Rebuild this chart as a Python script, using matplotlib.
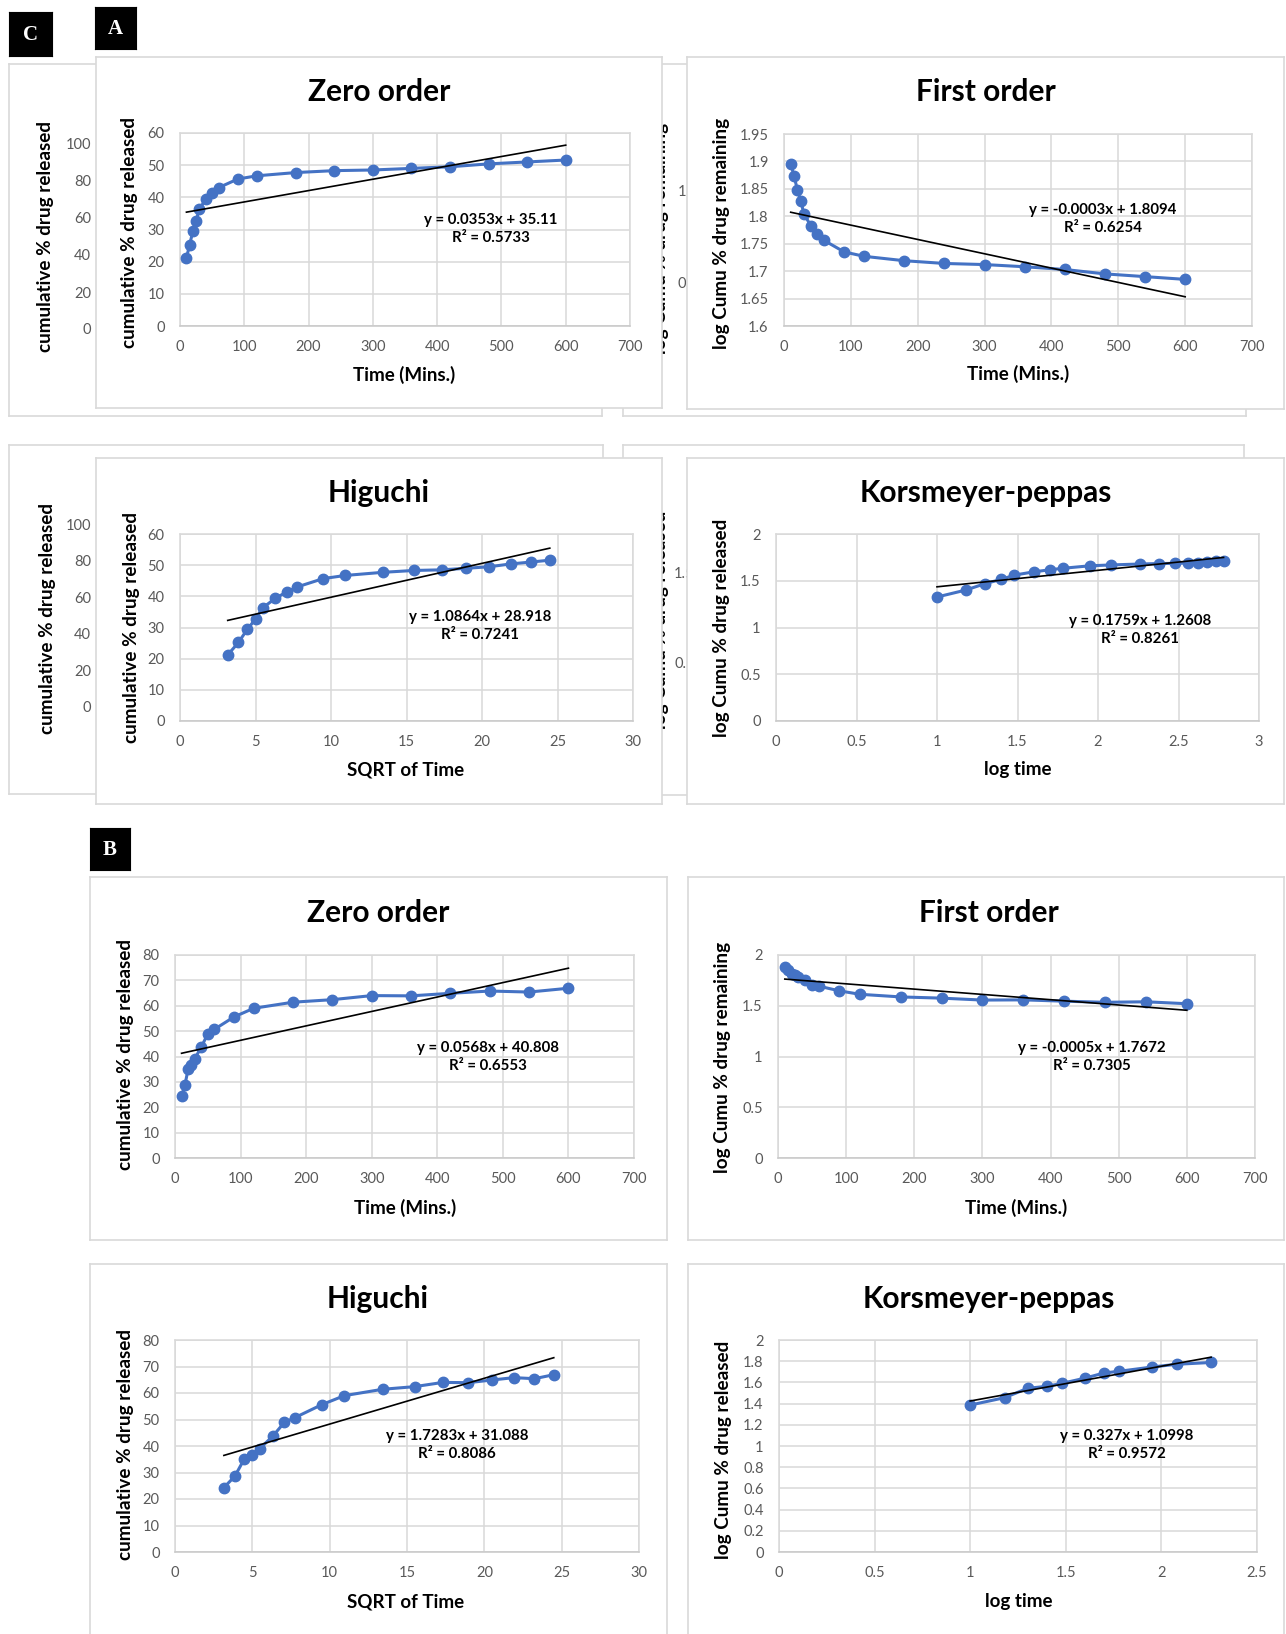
import numpy as np
import matplotlib.pyplot as plt

W, H = 1286, 1634

# x values (time points and their transforms)
time_min = [10, 15, 20, 25, 30, 40, 50, 60, 90, 120, 180, 240, 300, 360, 420, 480, 540, 600]
sqrt_time = [3.16, 3.87, 4.47, 5.00, 5.48, 6.32, 7.07, 7.75, 9.49, 10.95, 13.42, 15.49,
             17.32, 18.97, 20.49, 21.91, 23.24, 24.49]
log_time = [1.00, 1.18, 1.30, 1.40, 1.48, 1.60, 1.70, 1.78, 1.95, 2.08, 2.26, 2.38,
            2.48, 2.56, 2.62, 2.68, 2.73, 2.78]

# A
a_released = [21.2, 25.2, 29.5, 32.7, 36.3, 39.4, 41.4, 43.0, 45.7, 46.7, 47.7, 48.3,
              48.5, 49.0, 49.5, 50.4, 51.0, 51.6]
a_log_remaining = [1.896, 1.874, 1.848, 1.828, 1.804, 1.783, 1.768, 1.756, 1.735, 1.727,
                   1.719, 1.714, 1.712, 1.708, 1.703, 1.695, 1.690, 1.685]
a_log_released = [1.326, 1.401, 1.470, 1.515, 1.560, 1.595, 1.617, 1.633, 1.660, 1.669,
                  1.679, 1.684, 1.686, 1.690, 1.695, 1.702, 1.708, 1.713]
a_eqs = ["y = 0.0353x + 35.11\nR² = 0.5733", "y = -0.0003x + 1.8094\nR² = 0.6254",
         "y = 1.0864x + 28.918\nR² = 0.7241", "y = 0.1759x + 1.2608\nR² = 0.8261"]

# B
b_released = [24.3, 28.6, 35.0, 36.6, 39.0, 43.7, 48.9, 50.7, 55.6, 59.0, 61.4, 62.4,
              64.0, 63.9, 64.9, 65.8, 65.4, 66.9]
b_log_remaining = [1.879, 1.854, 1.813, 1.802, 1.785, 1.751, 1.708, 1.693, 1.647, 1.613,
                   1.587, 1.575, 1.556, 1.558, 1.545, 1.534, 1.539, 1.520]
b_log_released = [1.386, 1.456, 1.544, 1.563, 1.591, 1.640, 1.689, 1.705, 1.745, 1.771, 1.788]
b_eqs = ["y = 0.0568x + 40.808\nR² = 0.6553", "y = -0.0005x + 1.7672\nR² = 0.7305",
         "y = 1.7283x + 31.088\nR² = 0.8086", "y = 0.327x + 1.0998\nR² = 0.9572"]

BLUE = '#4472C4'
GRID = '#D9D9D9'
TICK = '#595959'
FONT = 'Lato'

plt.rcParams['font.family'] = FONT

fig = plt.figure(figsize=(W / 100, H / 100), dpi=100)
fig.patch.set_facecolor('white')
zc = [0]


def rect(x0, y0, x1, y1):
    return [x0 / W, 1 - y1 / H, (x1 - x0) / W, (y1 - y0) / H]


def nz():
    zc[0] += 1
    return zc[0]


def ftext(ax, x, y, s, **kw):
    ax.text(x / W, 1 - y / H, s, transform=fig.transFigure, ha='center', va='center', **kw)


def frame(x0, y0, x1, y1):
    ax = fig.add_axes(rect(x0, y0, x1, y1), zorder=nz())
    ax.set_facecolor('white')
    ax.set_xticks([])
    ax.set_yticks([])
    for s in ax.spines.values():
        s.set_color(GRID)
        s.set_linewidth(1.2)
    return ax


def tag(x0, y0, x1, y1, letter):
    ax = fig.add_axes(rect(x0, y0, x1, y1), zorder=nz())
    ax.set_facecolor('black')
    ax.set_xticks([])
    ax.set_yticks([])
    ftext(ax, (x0 + x1) / 2, (y0 + y1) / 2 + 1, letter, color='white', fontsize=15,
          fontweight='bold', family='Liberation Serif')


def fmt(v):
    return f'{round(v, 2):g}'


def chart(box, x, y, xticks, yticks, title, xlabel, ylabel, eq, pos):
    ax = fig.add_axes(rect(*box), zorder=nz())
    ax.set_facecolor('none')
    ax.plot(x, y, color=BLUE, lw=2.2, marker='o', ms=7.5, zorder=3, clip_on=False)
    k, b = np.polyfit(x, y, 1)
    xs = np.array([x[0], x[-1]])
    ax.plot(xs, k * xs + b, color='black', lw=1.2, zorder=4, clip_on=False)
    ax.set_xlim(xticks[0], xticks[-1])
    ax.set_ylim(yticks[0], yticks[-1])
    ax.set_xticks(xticks)
    ax.set_yticks(yticks)
    ax.set_xticklabels([fmt(v) for v in xticks])
    ax.set_yticklabels([fmt(v) for v in yticks])
    ax.grid(True, color=GRID, lw=1.1)
    ax.set_axisbelow(True)
    for s in ax.spines.values():
        s.set_color(GRID)
        s.set_linewidth(1.1)
    ax.spines['bottom'].set_color('#C8C8C8')
    ax.tick_params(length=0, labelsize=10.5, labelcolor=TICK)
    ax.tick_params(axis='y', pad=11)
    ax.tick_params(axis='x', pad=10)
    (tx, ty), (lx, ly), (yx, yy), (ex, ey) = pos
    ftext(ax, tx, ty, title, fontsize=21.5, fontweight='bold')
    ftext(ax, lx, ly, xlabel, fontsize=13.5, fontweight='bold')
    ftext(ax, yx, yy, ylabel, fontsize=13.6, fontweight='bold', rotation=90)
    ftext(ax, ex, ey, eq, fontsize=10.8, fontweight='bold', linespacing=1.4,
          multialignment='center')
    return ax


def bg_axis(box, yticks, ylabel, lab_xy):
    ax = fig.add_axes(rect(*box), zorder=nz())
    ax.set_facecolor('none')
    for s in ax.spines.values():
        s.set_visible(False)
    ax.set_xticks([])
    ax.set_ylim(yticks[0], yticks[-1])
    ax.set_yticks(yticks)
    ax.set_yticklabels([fmt(v) for v in yticks])
    ax.tick_params(length=0, labelsize=10.5, labelcolor=TICK, pad=3)
    ftext(ax, lab_xy[0], lab_xy[1], ylabel, fontsize=13.6, fontweight='bold', rotation=90)


rel_lab = 'cumulative % drug released'
rem_lab = 'log Cumu % drug remaining'
logrel_lab = 'log Cumu % drug released'

# ---- background panels (C) ----
frame(9, 64, 602, 416)
bg_axis((95, 144, 590, 329), [0, 20, 40, 60, 80, 100], rel_lab, (46, 237))
frame(623, 64, 1246, 416)
bg_axis((690, 191, 1230, 283), [0, 1], rem_lab, (661, 238))
frame(9, 445, 603, 794)
bg_axis((95, 524, 590, 707), [0, 20, 40, 60, 80, 100], rel_lab, (48, 619))
frame(623, 445, 1244, 795)
bg_axis((699, 572, 1230, 662), [0.5, 1.5], logrel_lab, (661, 620))

# ---- A panels ----
frame(96, 57, 662, 408)
chart((180, 133, 630, 326), time_min, a_released, list(range(0, 701, 100)),
      list(range(0, 61, 10)), 'Zero order', 'Time (Mins.)', rel_lab, a_eqs[0],
      [(379, 92), (404, 375), (130, 233), (491, 229)])
frame(687, 57, 1284, 409)
chart((784, 134, 1252, 326), time_min, a_log_remaining, list(range(0, 701, 100)),
      list(np.linspace(1.6, 1.95, 8)), 'First order', 'Time (Mins.)', rem_lab, a_eqs[1],
      [(986, 92), (1018, 374), (722, 233), (1103, 219)])
frame(96, 458, 662, 804)
chart((180, 534, 633, 721), sqrt_time, a_released, list(range(0, 31, 5)),
      list(range(0, 61, 10)), 'Higuchi', 'SQRT of Time', rel_lab, a_eqs[2],
      [(379, 493), (406, 770), (131, 628), (480, 626)])
frame(687, 458, 1284, 804)
chart((776, 534, 1259, 721), log_time, a_log_released, list(np.linspace(0, 3, 7)),
      list(np.linspace(0, 2, 5)), 'Korsmeyer-peppas', 'log time', logrel_lab, a_eqs[3],
      [(986, 493), (1018, 770), (722, 628), (1140, 630)])

# ---- B panels ----
frame(90, 877, 667, 1240)
chart((175, 955, 634, 1158), time_min, b_released, list(range(0, 701, 100)),
      list(range(0, 81, 10)), 'Zero order', 'Time (Mins.)', rel_lab, b_eqs[0],
      [(378, 913), (405, 1208), (125, 1055), (488, 1057)])
frame(688, 877, 1284, 1240)
chart((778, 955, 1255, 1158), time_min, b_log_remaining, list(range(0, 701, 100)),
      list(np.linspace(0, 2, 5)), 'First order', 'Time (Mins.)', rem_lab, b_eqs[1],
      [(989, 913), (1016, 1208), (723, 1057), (1092, 1057)])
frame(90, 1264, 667, 1660)
chart((175, 1340, 639, 1552), sqrt_time, b_released, list(range(0, 31, 5)),
      list(range(0, 81, 10)), 'Higuchi', 'SQRT of Time', rel_lab, b_eqs[2],
      [(378, 1299), (406, 1602), (126, 1445), (457, 1445)])
frame(688, 1264, 1284, 1660)
chart((779, 1340, 1257, 1552), log_time[:11], b_log_released, list(np.linspace(0, 2.5, 6)),
      list(np.linspace(0, 2, 11)), 'Korsmeyer-peppas', 'log time', logrel_lab, b_eqs[3],
      [(989, 1299), (1019, 1602), (724, 1450), (1127, 1445)])

# ---- panel tags ----
tag(9, 12, 52, 56, 'C')
tag(95, 7, 136, 49, 'A')
tag(90, 828, 130, 870, 'B')

fig.savefig('out.png', dpi=100)
